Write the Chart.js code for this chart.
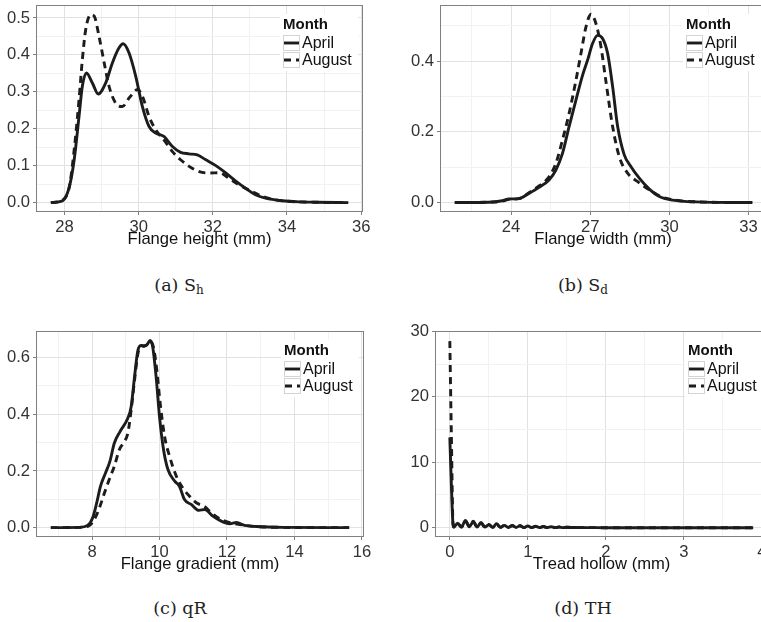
<!DOCTYPE html>
<html><head><meta charset="utf-8">
<script src="https://cdn.jsdelivr.net/npm/chart.js@4.4.1/dist/chart.umd.min.js"></script>
<style>
html,body{margin:0;padding:0;background:#fff;}
body{width:761px;height:622px;overflow:hidden;position:relative;}
.panel{position:absolute;}
.cap{position:absolute;width:200px;text-align:center;font-family:"DejaVu Serif",serif;font-size:17.5px;line-height:20px;color:#222;}
.cap sub{font-size:12px;vertical-align:-3px;line-height:0;}
</style></head><body>
<div class="panel" style="left:0;top:0"><canvas id="ca" width="380" height="250"></canvas></div>
<div class="panel" style="left:380px;top:0"><canvas id="cb" width="400" height="250"></canvas></div>
<div class="panel" style="left:0;top:310px"><canvas id="cc" width="380" height="265"></canvas></div>
<div class="panel" style="left:380px;top:310px"><canvas id="cd" width="400" height="265"></canvas></div>
<div class="cap" style="left:79px;top:275px">(a) S<sub>h</sub></div>
<div class="cap" style="left:483px;top:275px">(b) S<sub>d</sub></div>
<div class="cap" style="left:80px;top:598px">(c) qR</div>
<div class="cap" style="left:483px;top:598px">(d) TH</div>
<script>
// ---------- data ----------
const seriesNames = ['April', 'August'];
const legendTitle = 'Month';

// (a) Flange height
const heightAprilX = [27.63,27.95,28.13,28.26,28.39,28.48,28.59,28.75,28.91,29.11,29.29,29.47,29.58,29.74,29.92,30.10,30.28,30.46,30.68,30.91,31.13,31.36,31.58,31.81,32.08,32.34,32.61,32.88,33.15,33.42,33.87,34.32,34.77,35.65];
const heightAprilY = [0,0.005,0.043,0.116,0.233,0.315,0.351,0.324,0.294,0.324,0.378,0.419,0.430,0.405,0.342,0.260,0.206,0.188,0.179,0.152,0.136,0.132,0.129,0.116,0.100,0.081,0.059,0.039,0.021,0.012,0.005,0.002,0.001,0];
const heightAugustX = [27.63,27.95,28.13,28.26,28.39,28.48,28.57,28.71,28.80,28.93,29.07,29.20,29.38,29.56,29.74,29.97,30.10,30.28,30.46,30.68,30.91,31.13,31.36,31.63,31.90,32.17,32.43,32.70,33.06,33.42,33.87,34.77,35.65];
const heightAugustY = [0,0.007,0.043,0.143,0.278,0.387,0.468,0.509,0.505,0.450,0.378,0.315,0.269,0.260,0.283,0.306,0.288,0.233,0.197,0.170,0.138,0.116,0.098,0.084,0.080,0.081,0.066,0.048,0.030,0.014,0.005,0.001,0];
const heightXTicks = [28,30,32,34,36];
const heightXTickLabels = ['28','30','32','34','36'];
const heightXMinor = [29,31,33,35];
const heightYTicks = [0,0.1,0.2,0.3,0.4,0.5];
const heightYTickLabels = ['0.0','0.1','0.2','0.3','0.4','0.5'];
const heightYMinor = [0.05,0.15,0.25,0.35,0.45];

// (b) Flange width
const widthAprilX = [21.87,23.16,23.67,23.92,24.30,24.68,25.06,25.44,25.70,25.95,26.20,26.46,26.71,26.90,27.09,27.28,27.47,27.66,27.85,28.04,28.29,28.54,28.86,29.24,29.62,30.13,31.01,33.14];
const widthAprilY = [0,0.001,0.005,0.010,0.011,0.026,0.043,0.064,0.092,0.139,0.215,0.290,0.360,0.403,0.450,0.473,0.464,0.422,0.328,0.215,0.135,0.102,0.069,0.038,0.017,0.007,0.002,0];
const widthAugustX = [21.87,23.16,23.67,23.92,24.30,24.68,25.06,25.44,25.70,25.95,26.20,26.46,26.65,26.84,27.03,27.22,27.41,27.59,27.85,28.10,28.42,28.80,29.24,29.68,30.13,31.01,33.14];
const widthAugustY = [0,0.001,0.004,0.009,0.011,0.028,0.047,0.073,0.111,0.177,0.252,0.346,0.422,0.497,0.533,0.506,0.440,0.346,0.215,0.130,0.083,0.059,0.036,0.017,0.008,0.002,0];
const widthXTicks = [24,27,30,33];
const widthXTickLabels = ['24','27','30','33'];
const widthXMinor = [22.5,25.5,28.5,31.5];
const widthYTicks = [0,0.2,0.4];
const widthYTickLabels = ['0.0','0.2','0.4'];
const widthYMinor = [0.1,0.3,0.5];

// (c) Flange gradient
const gradAprilX = [6.78,7.62,7.87,8.02,8.14,8.25,8.40,8.53,8.66,8.83,9.06,9.16,9.26,9.36,9.46,9.55,9.65,9.72,9.80,9.90,10.00,10.12,10.25,10.45,10.59,10.74,10.94,11.17,11.34,11.58,11.83,12.08,12.28,12.52,12.87,13.66,15.62];
const gradAprilY = [0,0.001,0.008,0.035,0.088,0.146,0.193,0.234,0.298,0.339,0.386,0.427,0.532,0.626,0.643,0.640,0.649,0.661,0.637,0.532,0.392,0.275,0.205,0.164,0.146,0.099,0.082,0.061,0.064,0.041,0.023,0.014,0.018,0.008,0.004,0.001,0];
const gradAugustX = [6.78,7.62,7.90,8.07,8.22,8.37,8.51,8.66,8.81,8.96,9.06,9.16,9.26,9.36,9.46,9.60,9.72,9.82,9.92,10.02,10.15,10.30,10.50,10.69,10.89,11.09,11.34,11.53,11.78,12.08,12.38,12.87,13.66,15.62];
const gradAugustY = [0,0.001,0.006,0.029,0.070,0.123,0.170,0.216,0.275,0.304,0.333,0.415,0.520,0.614,0.640,0.643,0.658,0.637,0.556,0.439,0.322,0.251,0.181,0.140,0.111,0.088,0.074,0.053,0.032,0.018,0.011,0.004,0.001,0];
const gradXTicks = [8,10,12,14,16];
const gradXTickLabels = ['8','10','12','14','16'];
const gradXMinor = [7,9,11,13,15];
const gradYTicks = [0,0.2,0.4,0.6];
const gradYTickLabels = ['0.0','0.2','0.4','0.6'];
const gradYMinor = [0.1,0.3,0.5];

// (d) Tread hollow
const hollowX = [0,0.02,0.04,0.05,0.1,0.15,0.2,0.25,0.3,0.35,0.4,0.45,0.5,0.55,0.6,0.65,0.7,0.75,0.8,0.85,0.9,0.95,1.0,1.05,1.1,1.15,1.2,1.25,1.3,1.35,1.4,1.45,1.5,1.6,1.8,2.0,2.5,3.0,3.5,3.89];
const hollowAprilY = [13.8,6.5,0.6,0.1,0.7,0.1,1.1,0.15,0.9,0.1,0.8,0.1,0.45,0.05,0.6,0.05,0.35,0.03,0.35,0.03,0.3,0.02,0.25,0.02,0.22,0.02,0.18,0.01,0.14,0.01,0.1,0.01,0.06,0.02,0.01,0,0,0,0,0];
const hollowAugustY = [28.5,14,0.8,0.1,0.6,0.1,1.0,0.15,1.0,0.1,0.7,0.1,0.5,0.05,0.5,0.05,0.4,0.03,0.3,0.03,0.3,0.02,0.25,0.02,0.2,0.02,0.18,0.01,0.12,0.01,0.1,0.01,0.06,0.02,0.01,0,0,0,0,0];
const hollowXTicks = [0,1,2,3,4];
const hollowXTickLabels = ['0','1','2','3','4'];
const hollowXMinor = [0.5,1.5,2.5,3.5];
const hollowYTicks = [0,10,20,30];
const hollowYTickLabels = ['0','10','20','30'];
const hollowYMinor = [5,15,25];

// ---------- drawing ----------
const FONT = '"Liberation Sans", Arial, Helvetica, sans-serif';
const LINE = '#1c1c1c';
const AXFONT = 16.6;

const boxPlugin = {
  id: 'panelBox',
  afterDatasetsDraw(chart) {
    const a = chart.chartArea, ctx = chart.ctx;
    ctx.save();
    ctx.strokeStyle = '#808080'; ctx.lineWidth = 1;
    const l = Math.round(a.left) + 0.5, t = Math.round(a.top) + 0.5;
    const r = Math.round(a.right) - 0.5, b = Math.round(a.bottom) - 0.5;
    ctx.strokeRect(l, t, r - l, b - t);
    ctx.restore();
  }
};

const keyPlugin = {
  id: 'monthKey',
  afterDatasetsDraw(chart) {
    const a = chart.chartArea, ctx = chart.ctx;
    const x0 = Math.round(a.right) - 80, y0 = Math.round(a.top);
    ctx.save();
    ctx.fillStyle = '#fff';
    ctx.fillRect(x0 - 3, y0 + 9, 78, 57);
    ctx.fillStyle = '#111';
    ctx.textBaseline = 'middle'; ctx.textAlign = 'left';
    ctx.font = 'bold 15px ' + FONT;
    ctx.fillText(legendTitle, x0, y0 + 20);
    chart.data.datasets.forEach((ds, i) => {
      const by = y0 + 30 + i * 17;
      ctx.fillStyle = '#fff';
      ctx.fillRect(x0, by, 17, 16);
      ctx.strokeStyle = '#d4d4d4'; ctx.lineWidth = 1;
      ctx.strokeRect(x0 + 0.5, by + 0.5, 16, 15);
      ctx.strokeStyle = ds.borderColor; ctx.lineWidth = ds.borderWidth;
      ctx.setLineDash(ds.borderDash || []);
      ctx.beginPath(); ctx.moveTo(x0 + 1, by + 8); ctx.lineTo(x0 + 16, by + 8); ctx.stroke();
      ctx.setLineDash([]);
      ctx.fillStyle = '#111';
      ctx.font = '16px ' + FONT;
      ctx.fillText(ds.label, x0 + 19, by + 8.5);
    });
    ctx.restore();
  }
};

function pts(xs, ys) { return xs.map((x, i) => ({x: x, y: ys[i]})); }

function axis(kind, min, max, major, majorLabels, minor, size, title) {
  const all = major.concat(minor).filter(v => v >= min - 1e-9 && v <= max + 1e-9).sort((p, q) => p - q);
  const isMajor = v => major.some(m => Math.abs(m - v) < 1e-9);
  const cfg = {
    type: 'linear', min: min, max: max,
    afterBuildTicks: s => { s.ticks = all.map(v => ({value: v})); },
    afterFit: s => {
      if (kind === 'x') s.height = size; else s.width = size;
      s.paddingTop = 0; s.paddingBottom = 0; s.paddingLeft = 0; s.paddingRight = 0;
    },
    border: {display: false},
    grid: {
      color: c => isMajor(c.tick.value) ? '#e2e2e2' : '#f2f2f2',
      lineWidth: 1,
      drawTicks: true,
      tickLength: 3,
      tickColor: c => isMajor(c.tick.value) ? '#808080' : 'rgba(0,0,0,0)'
    },
    ticks: {
      autoSkip: false, maxRotation: 0, minRotation: 0,
      padding: kind === 'x' ? 2 : 3,
      color: '#333',
      font: {family: FONT, size: AXFONT},
      callback: v => { const i = major.findIndex(m => Math.abs(m - v) < 1e-9); return i >= 0 ? majorLabels[i] : ''; }
    }
  };
  if (title) {
    cfg.title = {display: true, text: title, color: '#111', font: {family: FONT, size: AXFONT}, padding: {top: 0, bottom: 1}};
  }
  return cfg;
}

function makeChart(id, pad, sets, xAxis, yAxis) {
  new Chart(document.getElementById(id), {
    type: 'line',
    data: {datasets: sets.map((s, i) => ({
      label: seriesNames[i],
      data: s,
      borderColor: LINE,
      borderWidth: 2.9,
      borderDash: i === 1 ? [7, 5] : [],
      pointRadius: 0,
      fill: false,
      cubicInterpolationMode: 'monotone'
    }))},
    options: {
      responsive: false,
      animation: false,
      layout: {padding: pad},
      plugins: {legend: {display: false}, tooltip: {enabled: false}},
      scales: {x: xAxis, y: yAxis}
    },
    plugins: [boxPlugin, keyPlugin]
  });
}

makeChart('ca', {left: 0, top: 5, right: 17, bottom: 0},
  [pts(heightAprilX, heightAprilY), pts(heightAugustX, heightAugustY)],
  axis('x', 27.23, 36.05, heightXTicks, heightXTickLabels, heightXMinor, 38, 'Flange height (mm)'),
  axis('y', -0.0255, 0.535, heightYTicks, heightYTickLabels, heightYMinor, 36));

makeChart('cb', {left: 0, top: 5, right: 14, bottom: 0},
  [pts(widthAprilX, widthAprilY), pts(widthAugustX, widthAugustY)],
  axis('x', 21.31, 33.66, widthXTicks, widthXTickLabels, widthXMinor, 38, 'Flange width (mm)'),
  axis('y', -0.0267, 0.559, widthYTicks, widthYTickLabels, widthYMinor, 60));

makeChart('cc', {left: 0, top: 21, right: 16, bottom: 0},
  [pts(gradAprilX, gradAprilY), pts(gradAugustX, gradAugustY)],
  axis('x', 6.34, 16.06, gradXTicks, gradXTickLabels, gradXMinor, 38, 'Flange gradient (mm)'),
  axis('y', -0.033, 0.694, gradYTicks, gradYTickLabels, gradYMinor, 36));

makeChart('cd', {left: 0, top: 21, right: 12, bottom: 0},
  [pts(hollowX, hollowAprilY), pts(hollowX, hollowAugustY)],
  axis('x', -0.19, 4.08, hollowXTicks, hollowXTickLabels, hollowXMinor, 38, 'Tread hollow (mm)'),
  axis('y', -1.42, 30.05, hollowYTicks, hollowYTickLabels, hollowYMinor, 55));
</script>
</body></html>
